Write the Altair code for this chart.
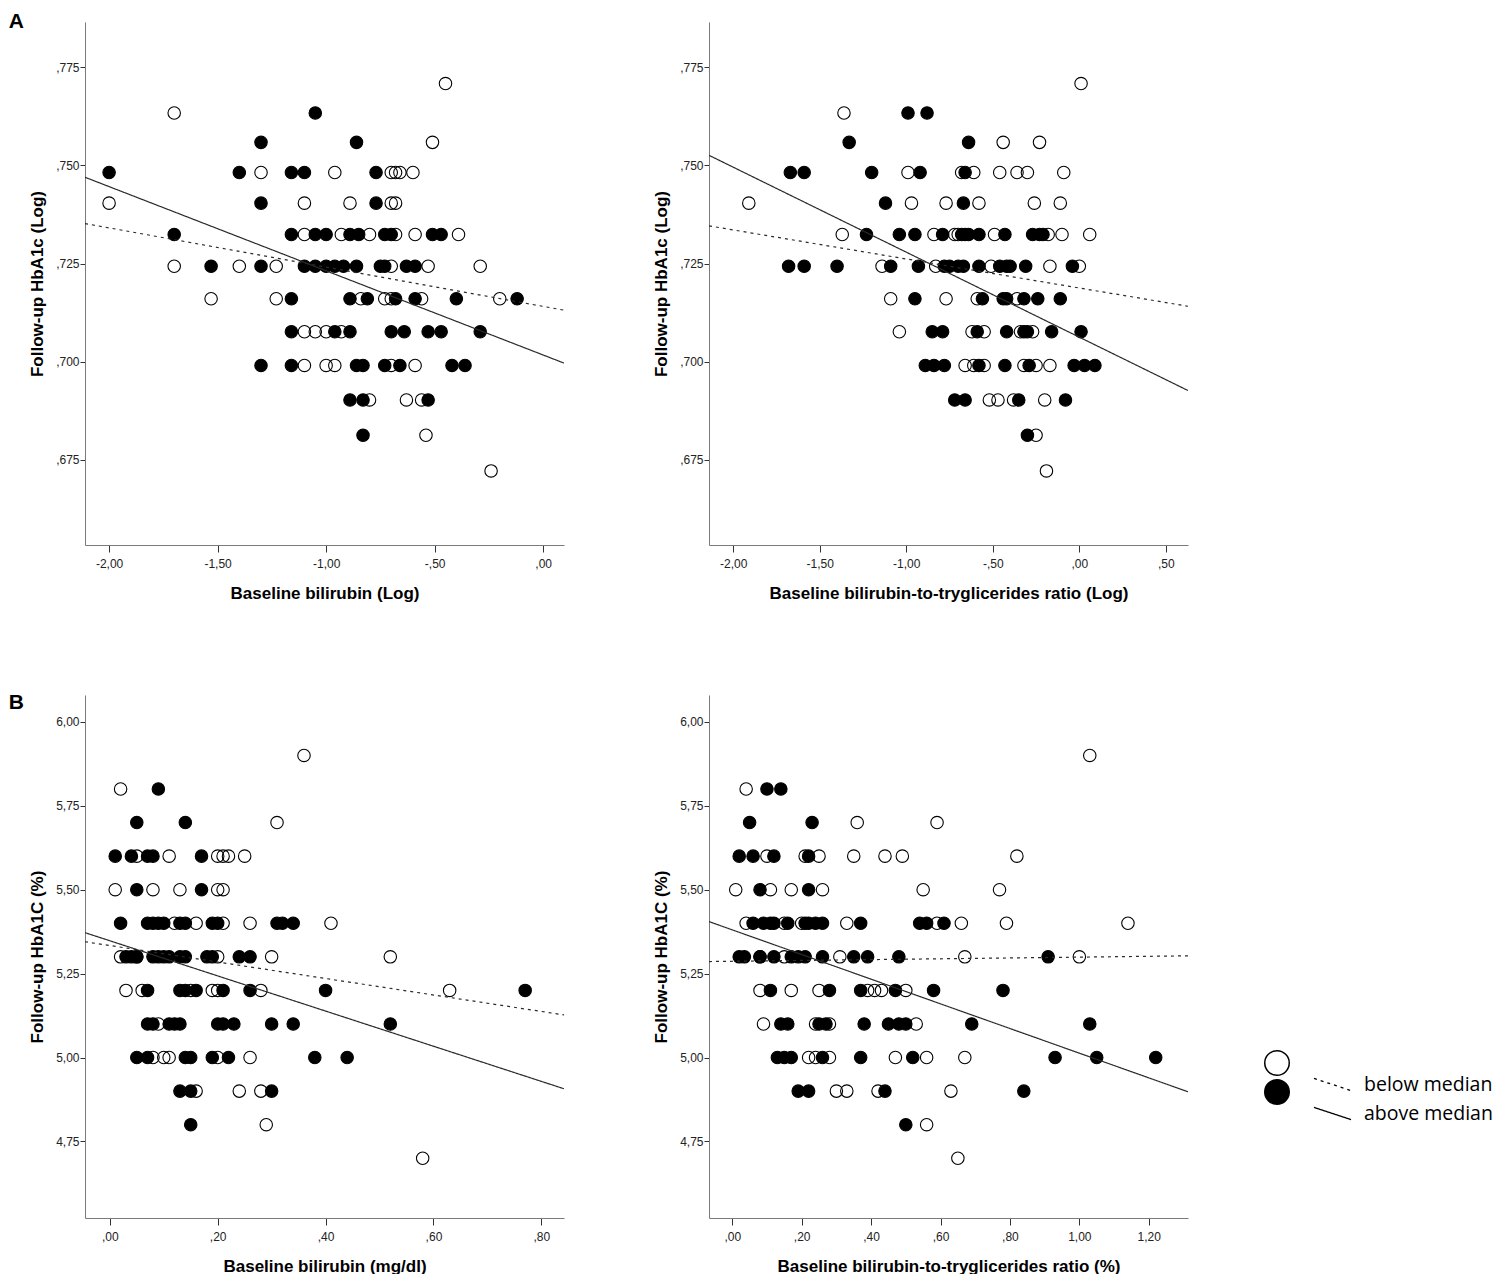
import altair as alt
import pandas as pd

GROUPS = ["below median", "above median"]
FITS = ["below", "above"]

# ---------------- axes ----------------
A_Y_DOMAIN = [0.6532, 0.7866]
B_Y_DOMAIN = [4.522, 6.080]
A_Y_TICKS = [0.675, 0.700, 0.725, 0.750, 0.775]
B_Y_TICKS = [4.75, 5.00, 5.25, 5.50, 5.75, 6.00]

P1_X_DOMAIN = [-2.111, 0.096]
P2_X_DOMAIN = [-2.140, 0.628]
P3_X_DOMAIN = [-0.046, 0.842]
P4_X_DOMAIN = [-0.067, 1.313]
P1_X_TICKS = [-2.0, -1.5, -1.0, -0.5, 0.0]
P2_X_TICKS = [-2.0, -1.5, -1.0, -0.5, 0.0, 0.5]
P3_X_TICKS = [0.0, 0.2, 0.4, 0.6, 0.8]
P4_X_TICKS = [0.0, 0.2, 0.4, 0.6, 0.8, 1.0, 1.2]

P1_X_TITLE = "Baseline bilirubin (Log)"
P2_X_TITLE = "Baseline bilirubin-to-tryglicerides ratio (Log)"
P3_X_TITLE = "Baseline bilirubin (mg/dl)"
P4_X_TITLE = "Baseline bilirubin-to-tryglicerides ratio (%)"
A_Y_TITLE = "Follow-up HbA1c (Log)"
B_Y_TITLE = "Follow-up HbA1C (%)"

# ---------------- points: (y, [x ...]) rows ----------------
P1_BELOW = [
    (0.7709, [-0.45]),
    (0.7634, [-1.70]),
    (0.7559, [-0.51]),
    (0.7482, [-1.30, -0.96, -0.70, -0.68, -0.66, -0.60]),
    (0.7404, [-2.00, -1.10, -0.89, -0.70, -0.68]),
    (0.7324, [-1.10, -0.93, -0.80, -0.68, -0.59, -0.39]),
    (0.7243, [-1.70, -1.40, -1.23, -0.70, -0.53, -0.29]),
    (0.7160, [-1.53, -1.23, -0.84, -0.73, -0.70, -0.56, -0.20]),
    (0.7076, [-1.10, -1.05, -1.00, -0.93]),
    (0.6990, [-1.10, -1.00, -0.96, -0.70, -0.59]),
    (0.6902, [-0.80, -0.63, -0.56]),
    (0.6812, [-0.54]),
    (0.6721, [-0.24]),
]
P1_ABOVE = [
    (0.7634, [-1.05]),
    (0.7559, [-1.30, -0.86]),
    (0.7482, [-2.00, -1.40, -1.16, -1.10, -0.77]),
    (0.7404, [-1.30, -0.77]),
    (0.7324, [-1.70, -1.16, -1.05, -1.00, -0.89, -0.85, -0.73, -0.70, -0.51, -0.47]),
    (0.7243, [-1.53, -1.30, -1.10, -1.05, -1.00, -0.96, -0.92, -0.86, -0.75, -0.73, -0.63, -0.59]),
    (0.7160, [-1.16, -0.89, -0.81, -0.68, -0.59, -0.40, -0.12]),
    (0.7076, [-1.16, -0.96, -0.89, -0.70, -0.64, -0.53, -0.47, -0.29]),
    (0.6990, [-1.30, -1.16, -0.86, -0.83, -0.73, -0.66, -0.42, -0.36]),
    (0.6902, [-0.89, -0.83, -0.53]),
    (0.6812, [-0.83]),
]

P2_BELOW = [
    (0.7709, [0.01]),
    (0.7634, [-1.36]),
    (0.7559, [-0.44, -0.23]),
    (0.7482, [-0.99, -0.68, -0.61, -0.46, -0.36, -0.30, -0.09]),
    (0.7404, [-1.91, -0.97, -0.77, -0.58, -0.26, -0.11]),
    (0.7324, [-1.37, -0.84, -0.72, -0.70, -0.49, -0.18, -0.10, 0.06]),
    (0.7243, [-1.14, -0.83, -0.51, -0.17, 0.00]),
    (0.7160, [-1.09, -0.77, -0.59, -0.36]),
    (0.7076, [-1.04, -0.62, -0.55, -0.34, -0.27]),
    (0.6990, [-0.66, -0.61, -0.55, -0.32, -0.25, -0.17]),
    (0.6902, [-0.52, -0.47, -0.38, -0.20]),
    (0.6812, [-0.25]),
    (0.6721, [-0.19]),
]
P2_ABOVE = [
    (0.7634, [-0.99, -0.88]),
    (0.7559, [-1.33, -0.64]),
    (0.7482, [-1.67, -1.59, -1.20, -0.92, -0.66]),
    (0.7404, [-1.12, -0.67]),
    (0.7324, [-1.23, -1.04, -0.95, -0.79, -0.68, -0.66, -0.64, -0.58, -0.43, -0.27, -0.23, -0.21]),
    (0.7243, [-1.68, -1.59, -1.40, -1.09, -0.93, -0.78, -0.75, -0.70, -0.67, -0.58, -0.46, -0.42, -0.40, -0.31, -0.04]),
    (0.7160, [-0.95, -0.56, -0.44, -0.42, -0.32, -0.24, -0.11]),
    (0.7076, [-0.85, -0.79, -0.59, -0.42, -0.32, -0.30, -0.16, 0.01]),
    (0.6990, [-0.89, -0.84, -0.78, -0.58, -0.43, -0.29, -0.03, 0.03, 0.09]),
    (0.6902, [-0.72, -0.66, -0.35, -0.08]),
    (0.6812, [-0.30]),
]

P3_BELOW = [
    (5.9, [0.36]),
    (5.8, [0.02]),
    (5.7, [0.31]),
    (5.6, [0.05, 0.11, 0.20, 0.21, 0.22, 0.25]),
    (5.5, [0.01, 0.08, 0.13, 0.20, 0.21]),
    (5.4, [0.12, 0.16, 0.21, 0.26, 0.41]),
    (5.3, [0.02, 0.05, 0.20, 0.30, 0.52]),
    (5.2, [0.03, 0.06, 0.15, 0.19, 0.20, 0.28, 0.63]),
    (5.1, [0.09]),
    (5.0, [0.08, 0.10, 0.11, 0.20, 0.26]),
    (4.9, [0.16, 0.24, 0.28]),
    (4.8, [0.29]),
    (4.7, [0.58]),
]
P3_ABOVE = [
    (5.8, [0.09]),
    (5.7, [0.05, 0.14]),
    (5.6, [0.01, 0.04, 0.07, 0.08, 0.17]),
    (5.5, [0.05, 0.17]),
    (5.4, [0.02, 0.07, 0.08, 0.09, 0.10, 0.13, 0.14, 0.19, 0.20, 0.31, 0.32, 0.34]),
    (5.3, [0.03, 0.04, 0.05, 0.08, 0.09, 0.10, 0.11, 0.13, 0.14, 0.18, 0.19, 0.24, 0.26]),
    (5.2, [0.07, 0.13, 0.14, 0.16, 0.21, 0.26, 0.40, 0.77]),
    (5.1, [0.07, 0.08, 0.11, 0.12, 0.13, 0.20, 0.21, 0.23, 0.30, 0.34, 0.52]),
    (5.0, [0.05, 0.07, 0.14, 0.15, 0.19, 0.22, 0.38, 0.44]),
    (4.9, [0.13, 0.15, 0.30]),
    (4.8, [0.15]),
]

P4_BELOW = [
    (5.9, [1.03]),
    (5.8, [0.04]),
    (5.7, [0.36, 0.59]),
    (5.6, [0.10, 0.21, 0.25, 0.35, 0.44, 0.49, 0.82]),
    (5.5, [0.01, 0.11, 0.17, 0.26, 0.55, 0.77]),
    (5.4, [0.04, 0.15, 0.20, 0.33, 0.59, 0.66, 0.79, 1.14]),
    (5.3, [0.08, 0.15, 0.31, 0.67, 1.00]),
    (5.2, [0.08, 0.17, 0.25, 0.39, 0.41, 0.43, 0.50]),
    (5.1, [0.09, 0.24, 0.28, 0.53]),
    (5.0, [0.22, 0.24, 0.28, 0.47, 0.56, 0.67]),
    (4.9, [0.30, 0.33, 0.42, 0.63]),
    (4.8, [0.56]),
    (4.7, [0.65]),
]
P4_ABOVE = [
    (5.8, [0.10, 0.14]),
    (5.7, [0.05, 0.23]),
    (5.6, [0.02, 0.06, 0.12, 0.22]),
    (5.5, [0.08, 0.22]),
    (5.4, [0.06, 0.09, 0.11, 0.12, 0.16, 0.21, 0.22, 0.24, 0.26, 0.37, 0.54, 0.56, 0.61]),
    (5.3, [0.02, 0.035, 0.08, 0.12, 0.17, 0.19, 0.21, 0.26, 0.35, 0.39, 0.48, 0.91]),
    (5.2, [0.11, 0.28, 0.37, 0.47, 0.58, 0.78]),
    (5.1, [0.14, 0.16, 0.25, 0.27, 0.38, 0.45, 0.48, 0.50, 0.69, 1.03]),
    (5.0, [0.13, 0.15, 0.17, 0.26, 0.37, 0.52, 0.93, 1.05, 1.22]),
    (4.9, [0.19, 0.22, 0.44, 0.84]),
    (4.8, [0.50]),
]

# ---------------- fit lines (values at the x-axis ends) ----------------
P1_FIT_X = [-2.111, 0.096]
P1_FIT_BELOW = [0.7352, 0.7131]
P1_FIT_ABOVE = [0.7470, 0.6996]
P2_FIT_X = [-2.140, 0.628]
P2_FIT_BELOW = [0.7346, 0.7141]
P2_FIT_ABOVE = [0.7526, 0.6926]
P3_FIT_X = [-0.046, 0.842]
P3_FIT_BELOW = [5.345, 5.127]
P3_FIT_ABOVE = [5.372, 4.907]
P4_FIT_X = [-0.067, 1.313]
P4_FIT_BELOW = [5.286, 5.303]
P4_FIT_ABOVE = [5.405, 4.898]

LBL = ("replace(replace(replace(format(datum.value, '{f}'), '\u2212', '-'), '.', ','), "
       "'0,', ',')")


def panel(below, above, fit_x, fit_below, fit_above, xdom, ydom, xticks, yticks,
          yfmt, xtitle, ytitle, legend=False):
    pts = pd.DataFrame(
        [{"x": x, "y": y, "group": GROUPS[0]} for y, xs in below for x in xs]
        + [{"x": x, "y": y, "group": GROUPS[1]} for y, xs in above for x in xs]
    )
    fit = pd.DataFrame({
        "x": list(fit_x) * 2,
        "y": list(fit_below) + list(fit_above),
        "fit": [FITS[0]] * 2 + [FITS[1]] * 2,
    })
    xenc = alt.X("x:Q", scale=alt.Scale(domain=xdom, nice=False, zero=False),
                 axis=alt.Axis(values=xticks, labelExpr=LBL.format(f=".2f"), title=xtitle))
    yenc = alt.Y("y:Q", scale=alt.Scale(domain=ydom, nice=False, zero=False),
                 axis=alt.Axis(values=yticks, labelExpr=LBL.format(f=yfmt), title=ytitle))
    if legend:
        fill_leg = alt.Legend(orient="none", legendX=555, legendY=355, title=None,
                              labelExpr="''", labelFontSize=2, symbolType="circle",
                              symbolSize=600, symbolStrokeColor="black",
                              symbolStrokeWidth=1.5, rowPadding=-6, padding=0)
        dash_leg = alt.Legend(orient="none", legendX=604, legendY=370, title=None,
                              labelExpr="datum.label + ' median'",
                              symbolType="M-1,-0.33L1,0.33", symbolSize=1369,
                              symbolStrokeColor="black", symbolStrokeWidth=1.3,
                              labelFont="Open Sans", labelFontSize=19.5,
                              labelColor="black", labelOffset=12, rowPadding=-1,
                              padding=0)
    else:
        fill_leg = None
        dash_leg = None

    points = alt.Chart(pts).mark_point(
        shape="circle", filled=True, size=155, stroke="black", strokeWidth=1.1, opacity=1
    ).encode(
        x=xenc, y=yenc,
        fill=alt.Fill("group:N", scale=alt.Scale(domain=GROUPS,
                      range=["rgba(255,255,255,0)", "black"]), legend=fill_leg),
    )
    lines = alt.Chart(fit).mark_line(clip=True, strokeWidth=1.2, color="#2a2a2a").encode(
        x="x:Q", y="y:Q",
        strokeDash=alt.StrokeDash("fit:N", scale=alt.Scale(domain=FITS,
                                  range=[[3, 4], [1, 0]]), legend=dash_leg),
    )
    return alt.layer(points, lines).properties(width=479, height=523)


p1 = panel(P1_BELOW, P1_ABOVE, P1_FIT_X, P1_FIT_BELOW, P1_FIT_ABOVE, P1_X_DOMAIN,
           A_Y_DOMAIN, P1_X_TICKS, A_Y_TICKS, ".3f", P1_X_TITLE, A_Y_TITLE)
p2 = panel(P2_BELOW, P2_ABOVE, P2_FIT_X, P2_FIT_BELOW, P2_FIT_ABOVE, P2_X_DOMAIN,
           A_Y_DOMAIN, P2_X_TICKS, A_Y_TICKS, ".3f", P2_X_TITLE, A_Y_TITLE)
p3 = panel(P3_BELOW, P3_ABOVE, P3_FIT_X, P3_FIT_BELOW, P3_FIT_ABOVE, P3_X_DOMAIN,
           B_Y_DOMAIN, P3_X_TICKS, B_Y_TICKS, ".2f", P3_X_TITLE, B_Y_TITLE)
p4 = panel(P4_BELOW, P4_ABOVE, P4_FIT_X, P4_FIT_BELOW, P4_FIT_ABOVE, P4_X_DOMAIN,
           B_Y_DOMAIN, P4_X_TICKS, B_Y_TICKS, ".2f", P4_X_TITLE, B_Y_TITLE, legend=True)


def letter(txt, off):
    return alt.TitleParams(txt, anchor="start", frame="bounds", offset=off, dx=-20,
                           fontSize=21, fontWeight="bold", font="Liberation Sans",
                           color="black", baseline="alphabetic")


RES = dict(fill="independent", strokeDash="independent")

row1 = alt.hconcat(p1, p2, spacing=88, title=letter("A", -27)) \
    .resolve_scale(**RES).resolve_legend(**RES)
row2 = alt.hconcat(p3, p4, spacing=88, title=letter("B", -35)) \
    .resolve_scale(**RES).resolve_legend(**RES)

chart = alt.vconcat(row1, row2, spacing=91).resolve_scale(**RES).resolve_legend(**RES) \
    .properties(padding={"top": 3, "left": 0, "right": 0, "bottom": 0}) \
    .configure_view(stroke=None) \
    .configure_axis(grid=False, domainColor="#7a7a7a", domainWidth=1,
                    tickColor="#333333", tickWidth=1, labelFont="Liberation Sans",
                    labelFontSize=12, labelColor="#222222", titleFont="Liberation Sans",
                    titleFontSize=17, titleFontWeight="bold", titleColor="black",
                    labelFlush=False) \
    .configure_axisX(tickSize=7, labelPadding=6, titlePadding=16) \
    .configure_axisY(tickSize=5, labelPadding=1, titlePadding=9)

chart.save("out.html", embed_options={"renderer": "svg", "actions": False})
